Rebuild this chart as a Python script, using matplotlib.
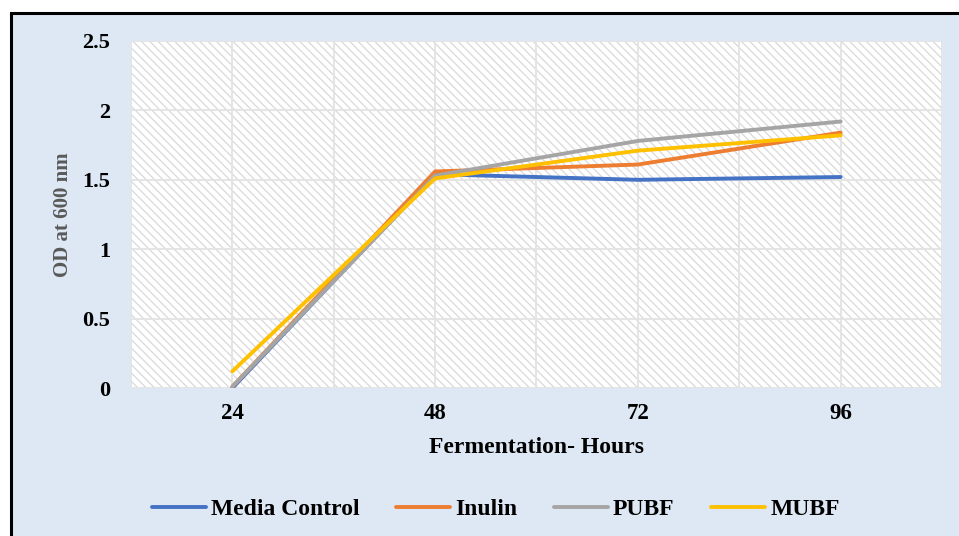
import matplotlib
matplotlib.use("Agg")
import matplotlib.pyplot as plt
from matplotlib.patches import Rectangle

# Fermentation time points (hours) and optical density readings
hours = [24, 48, 72, 96]
media_control = [0.00, 1.54, 1.50, 1.52]
inulin = [0.01, 1.56, 1.61, 1.84]
pubf = [0.01, 1.53, 1.78, 1.92]
mubf = [0.12, 1.51, 1.71, 1.82]

series_names = ["Media Control", "Inulin", "PUBF", "MUBF"]
series_colors = ["#4472C4", "#ED7D31", "#A5A5A5", "#FFC000"]
y_ticks = [0, 0.5, 1, 1.5, 2, 2.5]
y_tick_labels = ["0", "0.5", "1", "1.5", "2", "2.5"]

plt.rcParams["font.family"] = ["Liberation Serif", "DejaVu Serif"]
plt.rcParams["hatch.color"] = "#d9d9d9"
plt.rcParams["hatch.linewidth"] = 0.9

W, H = 959, 536
fig = plt.figure(figsize=(W / 100, H / 100), dpi=100)
fig.patch.set_facecolor("white")

# Chart frame: light blue panel with black top/left border
frame = Rectangle((11 / W, -0.01), 1.0, 1 - 13 / H + 0.01, transform=fig.transFigure,
                  facecolor="#DEE8F4", edgecolor="black", linewidth=2.2, zorder=-10)
fig.patches.append(frame)

ax = fig.add_axes([131 / W, 1 - 388 / H, (942 - 131) / W, (388 - 41) / H])
ax.set_zorder(5)
ax.set_facecolor("white")
ax.add_patch(Rectangle((0, 0), 1, 1, transform=ax.transAxes, facecolor="white",
                       edgecolor="#d9d9d9", hatch="\\\\\\\\", linewidth=0, zorder=0))

ax.set_xlim(12, 108)
ax.set_ylim(0, 2.5)

# Gridlines at category centres and between categories
for xv in range(12, 109, 12):
    ax.axvline(xv, color="#e3e3e3", linewidth=1.3, zorder=1)
for yv in y_ticks:
    ax.axhline(yv, color="#e3e3e3", linewidth=1.3, zorder=1)

for name, vals, col in zip(series_names, [media_control, inulin, pubf, mubf], series_colors):
    ax.plot(hours, vals, color=col, linewidth=2.8, solid_capstyle="round",
            solid_joinstyle="round", label=name, zorder=3)

for s in ax.spines.values():
    s.set_visible(False)

ax.set_xticks(hours)
ax.set_xticklabels([str(h) for h in hours], fontsize=16.5, fontweight="bold")
ax.set_yticks(y_ticks)
ax.set_yticklabels(y_tick_labels, fontsize=16, fontweight="bold")
ax.tick_params(axis="both", length=0)
ax.tick_params(axis="x", pad=11)
ax.tick_params(axis="y", pad=15)

ax.set_xlabel("Fermentation- Hours", fontsize=17, fontweight="bold", color="black", labelpad=9)
ax.set_ylabel("OD at 600 nm", fontsize=15, fontweight="bold", color="#595959")
ax.yaxis.set_label_coords(-0.072, 0.5)

leg = fig.legend(loc="center", bbox_to_anchor=(0.517, 1 - 509 / H), ncol=4,
                 frameon=False, handlelength=2.3, handletextpad=0.2, columnspacing=1.55,
                 prop={"family": "Liberation Serif", "weight": "bold", "size": 17})

fig.savefig("out.png", dpi=100, facecolor=fig.get_facecolor())
